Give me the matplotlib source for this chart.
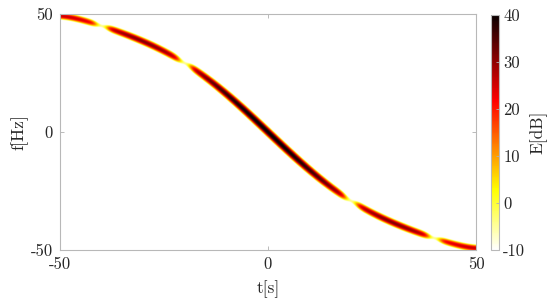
import numpy as np
import matplotlib
matplotlib.use("Agg")
import matplotlib.pyplot as plt

# ---- data ----
t_ridge = [-50, -45, -40, -35, -30, -25, -20, -15, -10, -5, 0,
           5, 10, 15, 20, 25, 30, 35, 40, 45, 50]
f_ridge = [49.3, 47.6, 45.0, 42.0, 38.5, 34.2, 29.0, 23.2, 16.3, 8.3, 0.0,
           -8.3, -16.3, -23.2, -29.0, -34.2, -38.5, -42.0, -45.0, -47.6, -49.3]
seg_bounds = [-40, -20, 20, 40]          # energy gaps along the ridge [s]
seg_centers = [-50, -30, 0, 30, 50]
seg_halfwidth = [10, 10, 20, 10, 10]
seg_peak_db = [26, 31, 41, 31, 26]
seg_edge_drop_db = [6, 8, 17, 8, 6]

x_ticks = [-50, 0, 50]
y_ticks = [-50, 0, 50]
cb_ticks = [-10, 0, 10, 20, 30, 40]
vmin, vmax = -10, 40

plt.rcParams['font.family'] = ['cmr10', 'DejaVu Serif']
plt.rcParams['mathtext.fontset'] = 'cm'
plt.rcParams['axes.unicode_minus'] = False
plt.rcParams['axes.formatter.use_mathtext'] = True

W, H = 550, 305
fig = plt.figure(figsize=(W / 100, H / 100), dpi=100)
ax = fig.add_axes([60 / W, 1 - 250 / H, 416 / W, 236 / H])
cax = fig.add_axes([491 / W, 1 - 250 / H, 8 / W, 235 / H])

# ---- build the energy image from the read ridge ----
tt = np.array(t_ridge, float)
ff = np.array(f_ridge, float)
coef = np.polyfit(tt, ff, 7)
dcoef = np.polyder(coef)

nt, nf = 900, 600
tg = np.linspace(-50, 50, nt)
fg = np.linspace(-50, 50, nf)
T, F = np.meshgrid(tg, fg)
fr = np.polyval(coef, T)
slope_px = np.polyval(dcoef, T) * (2.36 / 4.16)
dv = (F - fr) * 2.36
d = dv / np.sqrt(1 + slope_px ** 2)   # perpendicular distance in px

Er = np.full_like(tg, -100.0)
for c, hw, pk, dr in zip(seg_centers, seg_halfwidth, seg_peak_db, seg_edge_drop_db):
    m = (tg >= c - hw) & (tg <= c + hw)
    u = (tg[m] - c) / hw
    Er[m] = np.maximum(Er[m], pk - dr * u ** 2)
dist_b = np.min(np.abs(tg[:, None] - np.array(seg_bounds)[None, :]), axis=1)
Er = Er - (Er + 4) * np.exp(-(dist_b / 1.6) ** 2)

w = 4.6
E = Er[None, :] - 50 * (d / w) ** 2
E = np.clip(E, vmin, vmax)

im = ax.imshow(E, extent=[-50, 50, -50, 50], origin='lower', aspect='auto',
               cmap='hot_r', vmin=vmin, vmax=vmax, interpolation='bilinear')

ax.set_xlim(-50, 50)
ax.set_ylim(-50, 50)
ax.set_xticks(x_ticks)
ax.set_yticks(y_ticks)
ax.set_xticklabels([str(v) for v in x_ticks])
ax.set_yticklabels([str(v) for v in y_ticks])
ax.tick_params(direction='in', length=3, width=0.6, color='#b0b0b0',
               labelsize=12, labelcolor='#262626', top=True, right=True, pad=5)
for s in ax.spines.values():
    s.set_color('#b8b8b8')
    s.set_linewidth(0.8)
ax.set_xlabel('t[s]', fontsize=12.5, color='#262626', labelpad=6)
ax.set_ylabel('f[Hz]', fontsize=12.5, color='#262626', labelpad=2)

cb = fig.colorbar(im, cax=cax, ticks=cb_ticks)
cb.ax.set_yticklabels([str(v) for v in cb_ticks])
cb.ax.tick_params(direction='in', length=2, width=0.6, color='#b0b0b0',
                  labelsize=12, labelcolor='#262626', pad=3)
cb.outline.set_edgecolor('#b8b8b8')
cb.outline.set_linewidth(0.8)
cb.set_label('E[dB]', fontsize=12.5, color='#262626', labelpad=3)

fig.savefig('out.png', dpi=100)
